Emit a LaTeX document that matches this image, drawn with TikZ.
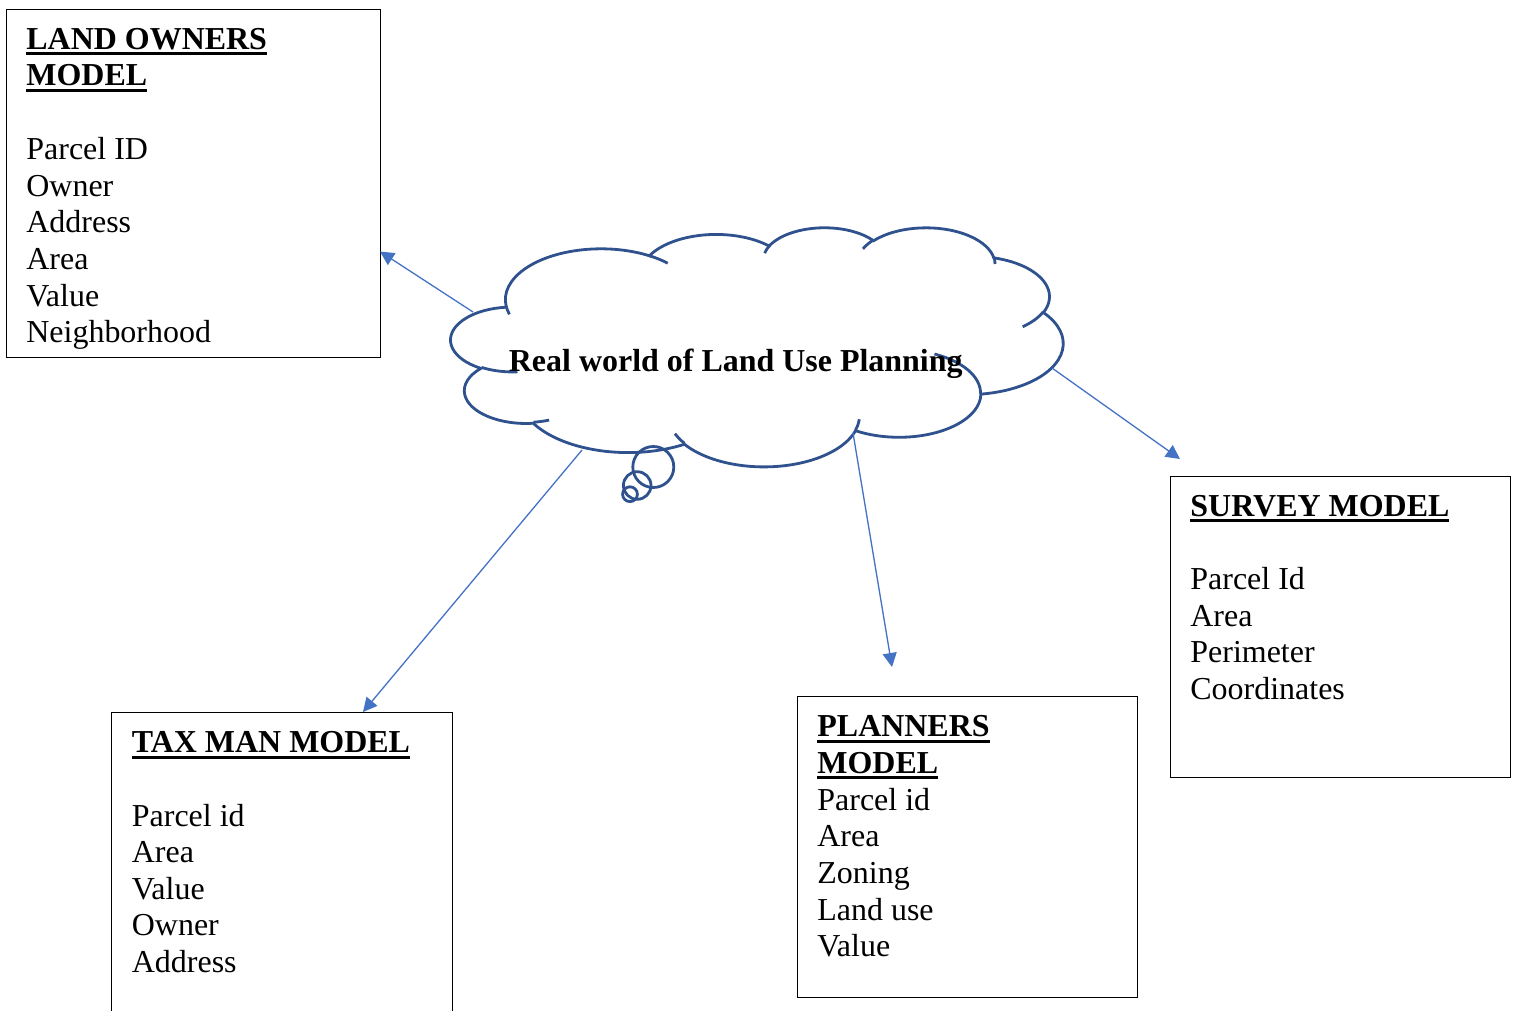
\documentclass[tikz,border=0pt]{standalone}
\usepackage{fontspec}
\setmainfont{Liberation Serif}
\usetikzlibrary{arrows.meta}
\definecolor{cloudblue}{HTML}{2F528F}
\definecolor{arrowblue}{HTML}{4472C4}
\newcommand\hdul[1]{\setbox0=\hbox{\bfseries #1}\rlap{\rule[-3pt]{\wd0}{1.5pt}}\box0}
\begin{document}
\begin{tikzpicture}[x=0.5pt,y=-0.5pt,
  declare function={ooang(\ua,\ub,\ut)=\ut+atan2((\ua-\ub)*sin(\ut)*cos(\ut),\ub*cos(\ut)*cos(\ut)+\ua*sin(\ut)*sin(\ut));},
  ooarc/.style n args={4}{start angle={ooang(#1,#2,#3)},end angle={ooang(#1,#2,#3+#4)},x radius=#1,y radius=#2},
  cloudline/.style={draw=cloudblue,line width=1.4pt},
  box/.style={draw=black,line width=0.6pt,anchor=north west,inner sep=0pt},
  txt/.style={anchor=base west,inner sep=0pt,font=\fontsize{15.98pt}{18.35pt}\selectfont},
  link/.style={draw=arrowblue,line width=0.65pt,-{Triangle[length=7pt,width=7pt]}}
]
\useasboundingbox (0,0) rectangle (1515,1011);
\clip (0,0) rectangle (1515,1011);

% boxes
\node[box,minimum width=187pt,minimum height=174pt] (land) at (6,9) {};
\node[box,minimum width=170.5pt,minimum height=160pt] (tax) at (111,712) {};
\node[box,minimum width=170pt,minimum height=150.5pt] (plan) at (797,696) {};
\node[box,minimum width=170pt,minimum height=150.5pt] (survey) at (1170,476) {};

% cloud
\begin{scope}[shift={(451,227)},x=0.070833pt,y=-0.027662pt]
\draw[cloudline,fill=white] (390,1437)
  arc[ooarc={675.3}{919}{-190.487483}{123.780533}]
  arc[ooarc={533.3}{726.7}{-144.102383}{89.945233}]
  arc[ooarc={436.5}{594.5}{-145.807917}{99.723017}]
  arc[ooarc={485.7}{659.5}{-130.986067}{117.241733}]
  arc[ooarc={533.3}{727.3}{-78.708883}{109.026917}]
  arc[ooarc={677.5}{922}{-46.26725}{130.269}]
  arc[ooarc={578.5}{786.7}{0.625017}{114.033333}]
  arc[ooarc={675.2}{921.5}{22.4516}{115.17255}]
  arc[ooarc={772}{1054.3}{66.242633}{75.711017}]
  arc[ooarc={436}{591.8}{-274.942083}{146.735567}]
  arc[ooarc={434.5}{594.5}{-246.8285}{152.51885}]
  -- cycle;
\draw[cloudline]
  (469.3,2617.7) arc[ooarc={434.5}{594.5}{86.742}{26.4295}]
  (692.8,3489.9) arc[ooarc={436}{591.8}{73.610467}{11.447467}]
  (1647.8,3909) arc[ooarc={675.2}{921.5}{137.62415}{14.0811}]
  (2882.7,3475.1) arc[ooarc={675.2}{921.5}{6.453267}{15.99835}]
  (3412.9,2295.4) arc[ooarc={578.5}{786.7}{-70.29235}{70.917367}]
  (4179.8,1535.4) arc[ooarc={533.3}{727.3}{30.318033}{27.7515}]
  (3832.4,542.6) arc[ooarc={485.7}{659.5}{-13.744333}{14.8589}]
  (2907.8,395.2) arc[ooarc={485.7}{659.5}{-149.18145}{18.195367}]
  (2214.1,472) arc[ooarc={436.5}{594.5}{-163.494267}{17.68635}]
  (1400,519.2) arc[ooarc={675.3}{919}{-66.70695}{12.31935}]
  (412.7,1578.9) arc[ooarc={675.3}{919}{157.65435}{11.858167}];
\end{scope}
% thought bubbles
\draw[cloudline] (653.3,467) circle[radius=20.5];
\draw[cloudline] (637.2,485.5) circle[radius=13.8];
\draw[cloudline] (630,494.2) circle[radius=7.4];

\node[txt] (cloud) at (508.5,371) {\bfseries Real world of Land Use Planning};

% connector ends
\coordinate (s1) at (473,312);
\coordinate (t1) at (380,251.5);
\coordinate (s2) at (1052,368);
\coordinate (t2) at (1180,459);
\coordinate (s3) at (582,450);
\coordinate (t3) at (363,712);
\coordinate (s4) at (853,433);
\coordinate (t4) at (892,667);
\draw[link] (s1) -- (t1);
\draw[link] (s2) -- (t2);
\draw[link] (s3) -- (t3);
\draw[link] (s4) -- (t4);

% land owners text
\node[txt] (l1) at (26,49.3) {\hdul{LAND OWNERS}};
\node[txt] (l2) at (26,86) {\hdul{MODEL}};
\node[txt] (l3) at (26,159.4) {Parcel ID};
\node[txt] (l4) at (26,196.1) {Owner};
\node[txt] (l5) at (26,232.8) {Address};
\node[txt] (l6) at (26,269.5) {Area};
\node[txt] (l7) at (26,306.2) {Value};
\node[txt] (l8) at (26,342.9) {Neighborhood};

% tax man text
\node[txt] (x1) at (131.5,752.7) {\hdul{TAX MAN MODEL}};
\node[txt] (x2) at (131.5,826) {Parcel id};
\node[txt] (x3) at (131.5,862.6) {Area};
\node[txt] (x4) at (131.5,899.2) {Value};
\node[txt] (x5) at (131.5,935.8) {Owner};
\node[txt] (x6) at (131.5,972.4) {Address};

% planners text
\node[txt] (p1) at (817,736.7) {\hdul{PLANNERS}};
\node[txt] (p2) at (817,773.4) {\hdul{MODEL}};
\node[txt] (p3) at (817,810.1) {Parcel id};
\node[txt] (p4) at (817,846.8) {Area};
\node[txt] (p5) at (817,883.5) {Zoning};
\node[txt] (p6) at (817,920.2) {Land use};
\node[txt] (p7) at (817,956.9) {Value};

% survey text
\node[txt] (v1) at (1190,516) {\hdul{SURVEY MODEL}};
\node[txt] (v2) at (1190,589.4) {Parcel Id};
\node[txt] (v3) at (1190,626.1) {Area};
\node[txt] (v4) at (1190,662.8) {Perimeter};
\node[txt] (v5) at (1190,699.5) {Coordinates};
\end{tikzpicture}
\end{document}
